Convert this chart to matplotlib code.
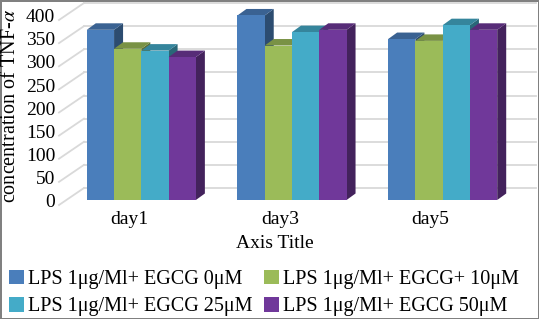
"""Excel-style 3D clustered column chart: TNF-alpha concentration by day."""

import numpy as np
from matplotlib import pyplot as plt
from matplotlib.patches import Polygon, Patch

plt.rcParams['font.family'] = ['Liberation Serif', 'DejaVu Serif']
plt.rcParams['mathtext.fontset'] = 'stix'

# data
days = ['day1', 'day3', 'day5']
series_names = ['LPS 1\u03bcg/Ml+ EGCG 0\u03bcM', 'LPS 1\u03bcg/Ml+ EGCG+ 10\u03bcM',
                'LPS 1\u03bcg/Ml+ EGCG 25\u03bcM', 'LPS 1\u03bcg/Ml+ EGCG 50\u03bcM']
egcg_0 = [368, 399, 348]
egcg_10 = [327, 334, 344]
egcg_25 = [323, 363, 378]
egcg_50 = [309, 368, 368]
y_ticks = [0, 50, 100, 150, 200, 250, 300, 350, 400]

colors = ['#4a7ebb', '#9bbb59', '#44abc8', '#70389a']

# depth of the fake 3D in data units (x: per category, y: per value unit)
px_x = 150.67   # px per category
px_y = 0.4625   # px per value unit
front = (-7 / px_x, -5 / px_y)     # front edge of the floor
back = (18 / px_x, 12 / px_y)      # back wall
bar_depth = (9 / px_x, 6.5 / px_y)

fig = plt.figure(figsize=(5.39, 3.19), dpi=100)
fig.patch.set_edgecolor('#808080')
fig.patch.set_linewidth(2)
ax = fig.add_axes([66 / 539, 119 / 319, 452 / 539, 185 / 319])
ax.set_xlim(-0.5, 2.5)
ax.set_ylim(0, 400)
ax.axis('off')

x0, x1 = ax.get_xlim()
# back wall gridlines and side wall lines
for v in y_ticks:
    ax.plot([x0 + back[0], x1 + back[0]], [v + back[1], v + back[1]],
            color='#d9d9d9', lw=1.3, clip_on=False, zorder=1)
    ax.plot([x0 + front[0], x0 + back[0]], [v + front[1], v + back[1]],
            color='#d9d9d9', lw=1.3, clip_on=False, zorder=1)
    ax.text(x0 + front[0] - 0.025, v + front[1] + 5, str(v), ha='right', va='center', fontsize=14)


def shade(c, f):
    rgb = np.array(plt.matplotlib.colors.to_rgb(c))
    return tuple(rgb * f)


x = np.arange(len(days))
width = 0.181
values = [egcg_0, egcg_10, egcg_25, egcg_50]
for i in range(len(days)):
    for j, vals in enumerate(values):
        left = x[i] - 2 * width + j * width
        right = left + width
        v = vals[i]
        bdx, bdy = bar_depth
        side = Polygon([(right, 0), (right + bdx, bdy), (right + bdx, v + bdy), (right, v)],
                       closed=True, facecolor=shade(colors[j], 0.6), edgecolor='none',
                       clip_on=False, zorder=3)
        top = Polygon([(left, v), (right, v), (right + bdx, v + bdy), (left + bdx, v + bdy)],
                      closed=True, facecolor=shade(colors[j], 0.78), edgecolor='none',
                      clip_on=False, zorder=3)
        ax.add_patch(side)
        ax.add_patch(top)
        ax.bar(left, v, width=width, align='edge', color=colors[j], zorder=3, clip_on=False)

for i, d in enumerate(days):
    ax.text(x[i] - 0.08, front[1] - 12, d, ha='center', va='top', fontsize=14)

fig.text(11 / 539, 1 - 106 / 319, r'concentration of TNF-$\alpha$', rotation=90,
         ha='center', va='center', fontsize=14.5)
fig.text(275 / 539, 1 - 244 / 319, 'Axis Title', ha='center', va='center', fontsize=14)

# legend is filled column by column, so reorder to get the reference's rows
order = [0, 2, 1, 3]
handles = [Patch(facecolor=colors[k], edgecolor='none') for k in order]
labels = [series_names[k] for k in order]
fig.legend(handles, labels, ncol=2, loc='center', bbox_to_anchor=(264 / 539, 1 - 293 / 319),
           frameon=False, fontsize=14.5, handlelength=0.75, handleheight=0.75, handletextpad=0.2,
           columnspacing=0.6, labelspacing=0.4, borderaxespad=0)

fig.savefig('out.png', dpi=100, edgecolor=fig.get_edgecolor())
